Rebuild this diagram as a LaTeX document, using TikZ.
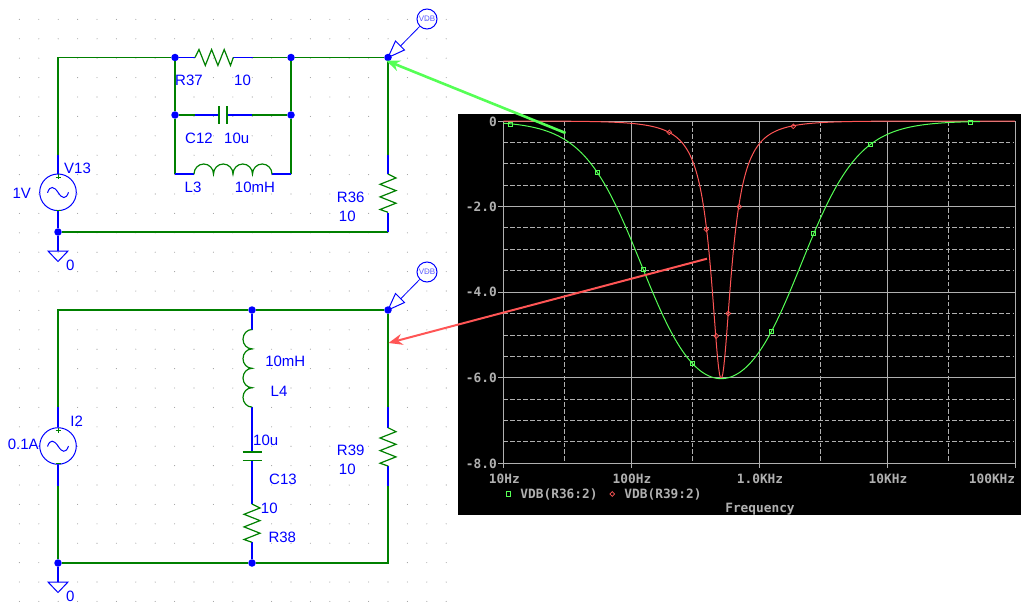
\documentclass[tikz,border=0pt]{standalone}
\usepackage{fontspec}
\setmainfont{Liberation Sans}
\newfontfamily\plotfont{DejaVu Sans Mono}
\usetikzlibrary{calc}
\usetikzlibrary{shapes.geometric}
\usetikzlibrary{arrows, arrows.meta}
\definecolor{wiregreen}{RGB}{0,128,0}
\definecolor{tracegreen}{RGB}{85,255,85}
\definecolor{tracered}{RGB}{255,85,85}
\definecolor{axisgray}{RGB}{176,176,176}
\tikzset{
    wire/.style={wiregreen, line width=1.2pt},
    pin/.style={blue, line width=1.2pt},
    jct/.style={circle, fill=blue, inner sep=0pt, minimum size=7.5pt},
    srcbody/.style={circle, draw=blue, line width=1pt, inner sep=0pt, minimum size=36.6pt},
    probebody/.style={circle, draw=blue, line width=1pt, inner sep=0pt, minimum size=20pt, text=blue!65!white, font=\fontsize{8}{8}\selectfont},
    lbl/.style={blue, inner sep=0pt, font=\fontsize{15}{15}\selectfont},
    axis/.style={axisgray, line width=1pt},
    grid/.style={axisgray, line width=1pt, dash pattern=on 4.5pt off 2.2pt},
    txt/.style={axisgray, inner sep=0pt, font=\plotfont\bfseries\fontsize{12.8}{13}\selectfont},
    sq/.style={rectangle, draw=tracegreen, line width=1pt, inner sep=0pt, minimum size=4.5pt},
    dm/.style={diamond, draw=tracered, line width=0.7pt, inner sep=0pt, minimum size=5pt},
    grn/.style={tracegreen, line width=1pt},
    rd/.style={tracered, line width=1pt},
}
% parts start at a named coordinate and run right or down
\newcommand*{\ResH}[1]{\draw[wire] (#1) -- ++(4,-8) -- ++(6.3,16) -- ++(6.3,-16) -- ++(6.3,16) -- ++(6.3,-16) -- ++(6.3,16) -- ++(2.8,-8);}
\newcommand*{\ResV}[1]{\draw[wire] (#1) -- ++(8,4) -- ++(-16,6.3) -- ++(16,6.3) -- ++(-16,6.3) -- ++(16,6.3) -- ++(-16,6.3) -- ++(8,2.8);}
\newcommand*{\IndH}[1]{\draw[wire] (#1) arc[start angle=180,end angle=0,x radius=9.75pt,y radius=10pt] arc[start angle=180,end angle=0,x radius=9.75pt,y radius=10pt] arc[start angle=180,end angle=0,x radius=9.75pt,y radius=10pt] arc[start angle=180,end angle=0,x radius=9.75pt,y radius=10pt];}
\newcommand*{\IndV}[1]{\draw[wire] (#1) arc[start angle=90,end angle=270,x radius=9pt,y radius=9.7pt] arc[start angle=90,end angle=270,x radius=9pt,y radius=9.7pt] arc[start angle=90,end angle=270,x radius=9pt,y radius=9.7pt] arc[start angle=90,end angle=270,x radius=9pt,y radius=9.7pt];}
\newcommand*{\Wave}[1]{
    \draw[pin, line width=1pt] ($(#1)+(-10.5,0.5)$) .. controls ($(#1)+(-8,-7)$) and ($(#1)+(-4,-6)$) .. ($(#1)+(0,0)$) .. controls ($(#1)+(4,6.5)$) and ($(#1)+(8,7.5)$) .. ($(#1)+(10.5,0)$);
    \draw[wiregreen] ($(#1)+(-2.5,-15.5)$) -- ($(#1)+(2.5,-15.5)$);
    \draw[wiregreen] ($(#1)+(0,-18)$) -- ($(#1)+(0,-13)$);
    \draw[wiregreen] ($(#1)+(-2.5,17.5)$) -- ($(#1)+(2.5,17.5)$);
}
\newcommand*{\Gnd}[1]{\draw[pin, line width=1pt] (#1) -- ++(10,0) -- ++(-10,10.5) -- ++(-10,-10.5) -- cycle;}
\begin{document}
\begin{tikzpicture}[x=1pt,y=-1pt,
    declare function={
        vdb(\t,\k)=10*log10(1+3/(1+min(\k*abs(10^(\t-2.7018)-10^(2.7018-\t)),95)^2));
    }]
    \useasboundingbox (0,0) rectangle (1025,610);
    % schematic grid
    \foreach \i in {1,...,23}
        \foreach \j in {1,...,31}
            \fill[gray!75] (19.4*\i,19.4*\j) circle (0.55pt);

    % upper circuit
    \node[jct] (J1) at (175,57.5) {};
    \node[jct] (J2) at (291,57.5) {};
    \node[jct] (J3) at (388,57.5) {};
    \node[jct] (J4) at (175,115) {};
    \node[jct] (J5) at (291,115) {};
    \node[jct] (J6) at (58,232) {};
    \node[srcbody] (V13) at (58,192.3) {};
    \coordinate (TL1) at (58,57.5);
    \coordinate (V13o) at (58,154.5);
    \coordinate (BL1) at (175,174);
    \coordinate (BR1) at (291,174);
    \coordinate (L3a) at (194,174);
    \coordinate (L3b) at (272,174);
    \coordinate (R37a) at (195,57.5);
    \coordinate (R37b) at (233.3,57.5);
    \coordinate (R37o) at (252.5,57.5);
    \coordinate (C12o) at (195,115);
    \coordinate (C12a) at (219,115);
    \coordinate (C12b) at (227,115);
    \coordinate (C12p) at (252,115);
    \coordinate (R36o) at (388,154.5);
    \coordinate (R36a) at (388,174);
    \coordinate (R36b) at (388,212.5);
    \coordinate (BR2) at (388,232);
    \coordinate (G1) at (58,251);
    \draw[wire] (V13o) -- (TL1) -- (J1);
    \draw[wire] (J1) -- (J4);
    \draw[wire] (J4) -- (BL1);
    \draw[wire] (J2) -- (J5);
    \draw[wire] (J5) -- (BR1);
    \draw[wire] (R37o) -- (J2);
    \draw[wire] (J2) -- (J3);
    \draw[wire] (J4) -- (C12o);
    \draw[wire] (C12p) -- (J5);
    \draw[wire] (J3) -- (R36o);
    \draw[wire] (BR2) -- (J6);
    \draw[pin] (J1) -- (R37a);
    \draw[pin] (R37b) -- (R37o);
    \draw[pin] (C12o) -- (C12a);
    \draw[pin] (C12b) -- (C12p);
    \draw[pin] (BL1) -- (L3a);
    \draw[pin] (L3b) -- (BR1);
    \draw[pin] (R36o) -- (R36a);
    \draw[pin] (R36b) -- (BR2);
    \draw[pin] (V13o) -- (V13.north);
    \draw[pin] (V13.south) -- (J6);
    \draw[pin] (J6) -- (G1);
    \ResH{R37a}
    \IndH{L3a}
    \ResV{R36a}
    \draw[wire] ($(C12a)+(0,-9)$) -- ($(C12a)+(0,9)$);
    \draw[wire] ($(C12b)+(0,-9)$) -- ($(C12b)+(0,9)$);
    \Wave{V13}
    \Gnd{G1}

    % lower circuit
    \node[jct] (J7) at (252,310) {};
    \node[jct] (J8) at (388,310) {};
    \node[jct] (J9) at (58,563) {};
    \node[jct] (J10) at (252,563) {};
    \node[srcbody] (I2) at (58,446) {};
    \coordinate (TL2) at (58,310);
    \coordinate (I2o) at (58,407);
    \coordinate (I2p) at (58,485.5);
    \coordinate (L4a) at (252,329.5);
    \coordinate (L4b) at (252,407);
    \coordinate (C13a) at (252,452);
    \coordinate (C13b) at (252,460.5);
    \coordinate (R38a) at (252,504);
    \coordinate (R38b) at (252,542.3);
    \coordinate (R39o) at (388,407);
    \coordinate (R39a) at (388,427.7);
    \coordinate (R39b) at (388,466);
    \coordinate (R39p) at (388,485.5);
    \coordinate (BR3) at (388,563);
    \coordinate (G2) at (58,582);
    \draw[wire] (I2o) -- (TL2) -- (J7);
    \draw[wire] (J7) -- (J8);
    \draw[wire] (I2p) -- (J9);
    \draw[wire] (J9) -- (J10);
    \draw[wire] (J10) -- (BR3) -- (R39p);
    \draw[wire] (J8) -- (R39o);
    \draw[pin] (I2o) -- (I2.north);
    \draw[pin] (I2.south) -- (I2p);
    \draw[pin] (J7) -- (L4a);
    \draw[pin] (L4b) -- (C13a);
    \draw[pin] (C13b) -- (R38a);
    \draw[pin] (R38b) -- (J10);
    \draw[pin] (R39o) -- (R39a);
    \draw[pin] (R39b) -- (R39p);
    \draw[pin] (J9) -- (G2);
    \IndV{L4a}
    \ResV{R38a}
    \ResV{R39a}
    \draw[wire] ($(C13a)+(-9.5,0)$) -- ($(C13a)+(9.5,0)$);
    \draw[wire] ($(C13b)+(-9.5,0)$) -- ($(C13b)+(9.5,0)$);
    \Wave{I2}
    \Gnd{G2}

    % probes
    \node[probebody] (P1) at (427,19) {VDB};
    \node[probebody] (P2) at (427,272) {VDB};
    \coordinate (P1t) at (400.5,46);
    \coordinate (P2t) at (400.5,299);
    \draw[pin, line width=1pt] (J3.center) -- ++(7.5,-16.5) -- ++(9,9) -- cycle;
    \draw[pin, line width=1pt] (J8.center) -- ++(7.5,-16.5) -- ++(9,9) -- cycle;
    \draw[pin, line width=0.8pt] (P1t) -- (P1);
    \draw[pin, line width=0.8pt] (P2t) -- (P2);

    % labels
    \node[lbl] (tR37) at (189,80) {R37};
    \node[lbl] (tR37v) at (242.5,80) {10};
    \node[lbl] (tC12) at (199,138) {C12};
    \node[lbl] (tC12v) at (236.7,138) {10u};
    \node[lbl] (tL3) at (193,187.5) {L3};
    \node[lbl] (tL3v) at (255,187.5) {10mH};
    \node[lbl] (tV13) at (77.5,168) {V13};
    \node[lbl] (tV13v) at (21.7,193) {1V};
    \node[lbl] (tR36) at (350.7,197.5) {R36};
    \node[lbl] (tR36v) at (347.3,216) {10};
    \node[lbl] (tG1) at (70.3,265) {0};
    \node[lbl] (tI2) at (76.7,421.3) {I2};
    \node[lbl] (tI2v) at (23.3,444) {0.1A};
    \node[lbl] (tL4v) at (285.3,361.7) {10mH};
    \node[lbl] (tL4) at (279,391.3) {L4};
    \node[lbl] (tC13v) at (265.7,440.3) {10u};
    \node[lbl] (tC13) at (283,479.3) {C13};
    \node[lbl] (tR38v) at (269.3,508) {10};
    \node[lbl] (tR38) at (282.3,537) {R38};
    \node[lbl] (tR39) at (350.7,450) {R39};
    \node[lbl] (tR39v) at (347.3,469.3) {10};
    \node[lbl] (tG2) at (70.3,596) {0};

    % probe window
    \fill[black] (458,114) rectangle (1021,515);
    \foreach \y in {142.4,163.8,185.2,227.7,249.1,270.5,313.7,335.1,356.5,399.1,420.5,441.9}
        \draw[grid] (503.3,\y) -- (1013,\y);
    \foreach \x in {564.3,692.3,820.3,948.3}
        \draw[grid] (\x,121) -- (\x,463.3);
    \foreach \y in {121,206.6,292.2,377.8,463.3}
        \draw[axis] (498,\y) -- (1015,\y);
    \foreach \x in {503.3,631.3,759.3,887.3,1015.3}
        \draw[axis] (\x,121) -- (\x,468);
    \node[txt, anchor=east] (y0) at (497,121.7) {0};
    \node[txt, anchor=east] (y2) at (497,206.6) {-2.0};
    \node[txt, anchor=east] (y4) at (497,292.2) {-4.0};
    \node[txt, anchor=east] (y6) at (497,378) {-6.0};
    \node[txt, anchor=east] (y8) at (497,464) {-8.0};
    \node[txt] (x1) at (504.3,479) {10Hz};
    \node[txt] (x2) at (632,479) {100Hz};
    \node[txt] (x3) at (760,479) {1.0KHz};
    \node[txt] (x4) at (888,479) {10KHz};
    \node[txt] (x5) at (992,479) {100KHz};
    \node[txt] (leg1) at (559,494) {VDB(R36:2)};
    \node[txt] (leg2) at (663,494) {VDB(R39:2)};
    \node[txt] (xname) at (760,509) {Frequency};
    \node[sq] (legs) at (508.3,494) {};
    \node[dm] (legd) at (612.3,494) {};

    % traces
    \draw[rd] plot[domain=1:5, samples=500] ({503.3+128*(\x-1)},{121+42.8*vdb(\x,3.162)});
    \draw[grn] plot[domain=1:4.724, samples=300] ({503.3+128*(\x-1)},{121+42.8*vdb(\x,0.3162)});
    \foreach \x/\y [count=\i] in {510.3/124.3,597.7/172.3,643.3/269.3,692.3/363.3,771.3/331.3,813.3/233.3,870.3/144.3,970.3/122.3}
        \node[sq] (gm\i) at (\x,\y) {};
    \foreach \x/\y [count=\i] in {669.3/132.3,706.3/229.3,728.3/313.5,716.3/336,739.3/206.7,793.3/126.3}
        \node[dm] (rm\i) at (\x,\y) {};

    % arrows
    \coordinate (Gs) at (565.5,133);
    \coordinate (Ge) at (386,60.5);
    \coordinate (Rs) at (707,258.7);
    \coordinate (Re) at (388.5,343);
    \draw[tracegreen, line width=2.6pt, -{Stealth[length=14pt,width=11pt]}] (Gs) -- (Ge);
    \draw[tracered, line width=2pt, -{Stealth[length=14pt,width=11pt]}] (Rs) -- (Re);
\end{tikzpicture}
\end{document}
